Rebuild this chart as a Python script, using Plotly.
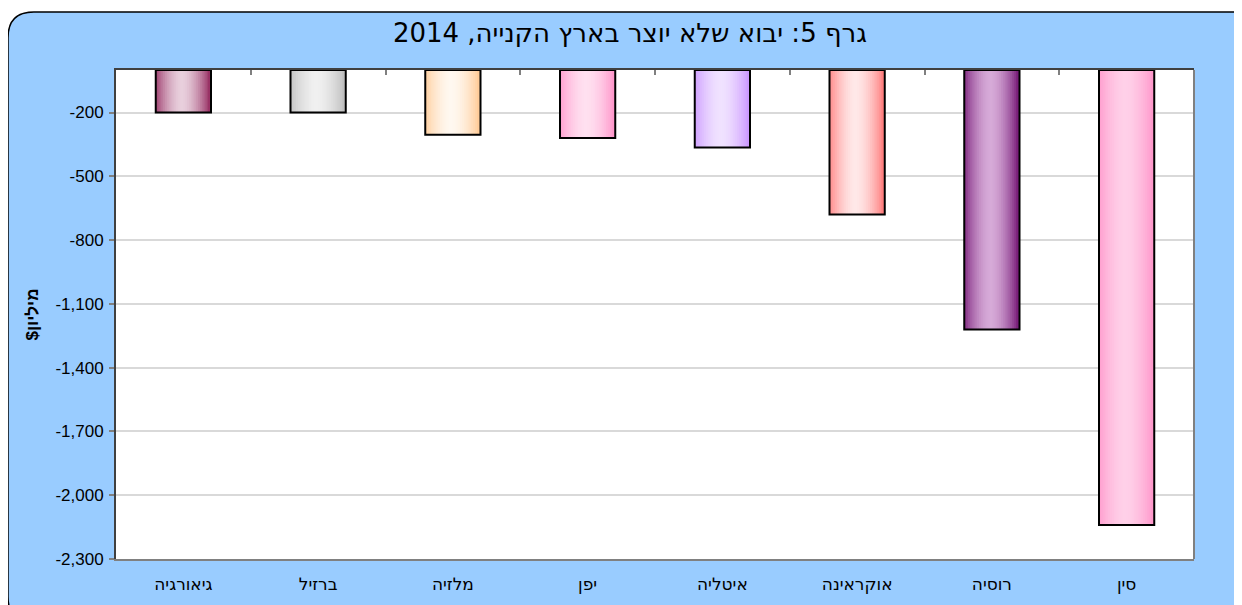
import plotly.graph_objects as go

# ---- data ----
categories = ["גיאורגיה", "ברזיל", "מלזיה", "יפן", "איטליה", "אוקראינה", "רוסיה", "סין"]
values = [-200, -200, -305, -320, -365, -680, -1220, -2140]
edge_colors = ["#993366", "#bfbfbf", "#ffcc99", "#ff99cc", "#cc99ff", "#ff8080", "#7a1f7a", "#ff99cc"]
center_colors = ["#e8cfdc", "#f0f0f0", "#fff8f0", "#ffe0f0", "#f0e2ff", "#ffe8e8", "#d6aad8", "#ffd0e8"]
tick_values = [-200, -500, -800, -1100, -1400, -1700, -2000, -2300]
tick_labels = ["-200", "-500", "-800", "-1,100", "-1,400", "-1,700", "-2,000", "-2,300"]
title_text = "גרף 5: יבוא שלא יוצר בארץ הקנייה, 2014"
y_title = "מיליון$\u200f"

BAR_W = 0.41
N = 30


def hex2rgb(h):
    h = h.lstrip("#")
    return tuple(int(h[i:i + 2], 16) for i in (0, 2, 4))


def mix(c1, c2, t):
    a, b = hex2rgb(c1), hex2rgb(c2)
    return "rgb(%d,%d,%d)" % tuple(round(a[k] + (b[k] - a[k]) * t) for k in range(3))


fig = go.Figure()

for i in range(N):
    u = (i + 0.5) / N
    t = 1 - min(1.0, abs(u - 0.47) / 0.5) ** 1.7
    cols = [mix(e, c, t) for e, c in zip(edge_colors, center_colors)]
    w = BAR_W / N
    off = -BAR_W / 2 + i * w if i < N - 1 else -BAR_W / 2 + i * w - w * 0.6
    fig.add_trace(go.Bar(
        x=categories, y=values,
        width=[w * 1.6] * len(categories),
        offset=[off] * len(categories),
        marker=dict(color=cols, line=dict(width=0)),
        hoverinfo="skip", showlegend=False,
    ))

# outline
fig.add_trace(go.Bar(
    x=categories, y=values, width=[BAR_W] * len(categories),
    offset=[-BAR_W / 2] * len(categories),
    marker=dict(color="rgba(0,0,0,0)", line=dict(color="black", width=2)),
    showlegend=False, xaxis="x2",
))

L, R, T, B = -0.1002, 1.06, 1.1186, -0.13
rx, ry = 0.024, 0.053
path = (f"M {L+rx},{T} L {R-rx},{T} Q {R},{T} {R},{T-ry} L {R},{B+ry} Q {R},{B} {R-rx},{B} "
        f"L {L+rx},{B} Q {L},{B} {L},{B+ry} L {L},{T-ry} Q {L},{T} {L+rx},{T} Z")

fig.update_layout(
    width=1234, height=597,
    margin=dict(l=108, r=48, t=62, b=46),
    paper_bgcolor="white", plot_bgcolor="white",
    barmode="overlay", showlegend=False,
    title=dict(text=title_text, x=0.504, xanchor="center", y=0.958, yanchor="middle",
               font=dict(family="DejaVu Sans", size=26, color="black")),
    font=dict(family="Liberation Sans, Arial", color="black"),
    shapes=[
        dict(type="path", path=path, xref="paper", yref="paper", layer="below",
             fillcolor="#99ccff", line=dict(color="black", width=1.5)),
        dict(type="rect", xref="paper", yref="paper", x0=0, x1=1, y0=0, y1=1, layer="below",
             fillcolor="white", line=dict(width=0)),
        dict(type="line", xref="paper", yref="paper", x0=1, x1=1, y0=0, y1=1,
             line=dict(color="#808080", width=2)),
    ],
    xaxis=dict(type="category", showgrid=False, showline=True, linecolor="#808080", linewidth=2,
               ticks="", tickfont=dict(size=17, family="DejaVu Sans"), ticklabelstandoff=9,
               zeroline=False),
    xaxis2=dict(type="category", overlaying="x", matches="x", side="top", showticklabels=False,
                showline=True, linecolor="#404040", linewidth=2, ticks="inside", ticklen=5,
                tickcolor="#808080", tickwidth=2, tickson="boundaries", showgrid=False),
    yaxis=dict(range=[-2300, 0], tickvals=tick_values, ticktext=tick_labels,
               showgrid=True, gridcolor="#d9d9d9", gridwidth=1.5,
               showline=True, linecolor="#404040", linewidth=2,
               ticks="outside", ticklen=5, tickcolor="#808080", tickwidth=1.5,
               zeroline=False, ticklabelstandoff=2,
               tickfont=dict(size=17, family="Liberation Sans, Arial"),
               title=dict(text="<b>" + y_title + "</b>", standoff=12,
                          font=dict(size=17, family="Liberation Sans, Arial"))),
)

fig.write_html("out.html")
